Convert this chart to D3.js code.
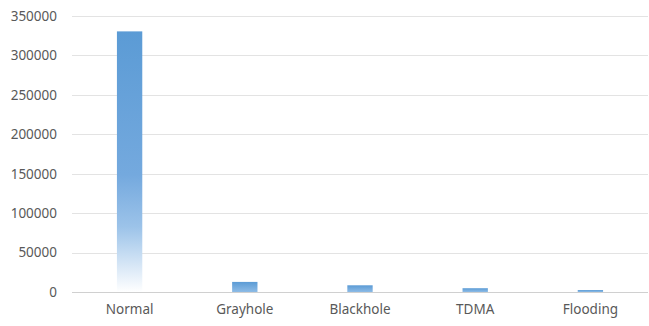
<!DOCTYPE html>
<html>
<head>
<meta charset="utf-8">
<script src="https://cdn.jsdelivr.net/npm/d3@7"></script>
<style>
  body { margin: 0; background: #fff; }
  svg { display: block; }
</style>
</head>
<body>
<script>
var categories = ["Normal", "Grayhole", "Blackhole", "TDMA", "Flooding"];
var values = [330500, 12800, 8500, 4800, 2500];
var yTicks = [0, 50000, 100000, 150000, 200000, 250000, 300000, 350000];

var width = 649, height = 326;
var margin = {top: 16, right: 1, bottom: 34, left: 72};

var svg = d3.select("body")
    .append("svg")
    .attr("width", width)
    .attr("height", height);

var defs = svg.append("defs");

// tall bar fades out to white near the bottom
var gTall = defs.append("linearGradient")
    .attr("id", "gradTall")
    .attr("x1", 0).attr("y1", 0).attr("x2", 0).attr("y2", 1);
gTall.append("stop").attr("offset", "0%").attr("stop-color", "#5b9bd5");
gTall.append("stop").attr("offset", "55%").attr("stop-color", "#74a9de");
gTall.append("stop").attr("offset", "75%").attr("stop-color", "#9cc3e9");
gTall.append("stop").attr("offset", "100%").attr("stop-color", "#ffffff");

// short bars only get a light fade
var gShort = defs.append("linearGradient")
    .attr("id", "gradShort")
    .attr("x1", 0).attr("y1", 0).attr("x2", 0).attr("y2", 1);
gShort.append("stop").attr("offset", "0%").attr("stop-color", "#5b9bd5");
gShort.append("stop").attr("offset", "100%").attr("stop-color", "#8dbbe6");

var x = d3.scaleBand()
    .domain(categories)
    .range([margin.left, width - margin.right])
    .paddingInner(0.78)
    .paddingOuter(0.39);

var y = d3.scaleLinear()
    .domain([0, 350000])
    .range([height - margin.bottom, margin.top]);

// gridlines
svg.append("g")
    .selectAll("line")
    .data(yTicks)
    .enter()
        .append("line")
        .attr("x1", margin.left)
        .attr("x2", width - margin.right)
        .attr("y1", function (d) { return Math.round(y(d)) + 0.5; })
        .attr("y2", function (d) { return Math.round(y(d)) + 0.5; })
        .attr("stroke", function (d) { return d === 0 ? "#d0d0d0" : "#e3e3e3"; })
        .attr("stroke-width", 1);

// y axis labels
var yAxis = d3.axisLeft(y)
    .tickValues(yTicks)
    .tickSize(0)
    .tickPadding(0)
    .tickFormat(function (d) { return d; });

svg.append("g")
    .attr("transform", "translate(57,0)")
    .call(yAxis)
    .call(function (g) { g.select(".domain").remove(); })
    .selectAll("text")
        .attr("fill", "#595959")
        .style("font-family", "'Noto Sans', sans-serif")
        .style("font-size", "13.5px");

// x axis labels
var xAxis = d3.axisBottom(x)
    .tickSize(0)
    .tickPadding(0);

svg.append("g")
    .attr("transform", "translate(0," + (height - margin.bottom + 12) + ")")
    .call(xAxis)
    .call(function (g) { g.select(".domain").remove(); })
    .selectAll("text")
        .attr("fill", "#595959")
        .style("font-family", "'Noto Sans', sans-serif")
        .style("font-size", "13.5px");

// bars
svg.append("g")
    .selectAll("rect")
    .data(values)
    .enter()
        .append("rect")
        .attr("x", function (d, i) { return x(categories[i]); })
        .attr("y", function (d) { return y(d); })
        .attr("width", x.bandwidth())
        .attr("height", function (d) { return y(0) - y(d); })
        .attr("fill", function (d) { return d > 100000 ? "url(#gradTall)" : "url(#gradShort)"; });
</script>
</body>
</html>
